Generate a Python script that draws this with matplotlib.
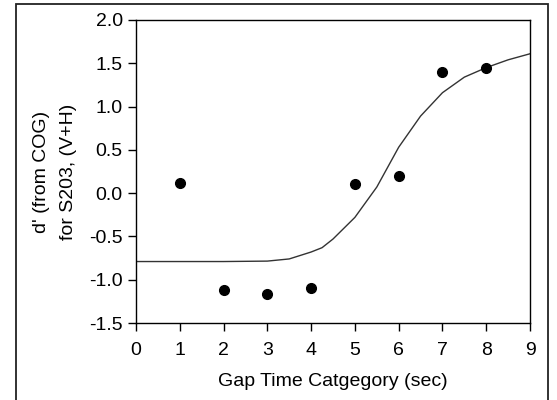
import matplotlib
matplotlib.use('Agg')
import matplotlib.pyplot as plt
from matplotlib.patches import Rectangle

# puntos medidos
gap_cat = [1, 2, 3, 4, 5, 6, 7, 8]
d_prime = [0.12, -1.12, -1.16, -1.10, 0.10, 0.20, 1.40, 1.45]

# curva ajustada
curva_x = [0, 1, 2, 3, 3.5, 4, 4.25, 4.5, 5, 5.5, 6, 6.5, 7, 7.5, 8, 8.5, 9]
curva_y = [-0.79, -0.79, -0.79, -0.785, -0.76, -0.68, -0.63, -0.53, -0.28,
           0.07, 0.53, 0.89, 1.16, 1.34, 1.45, 1.54, 1.61]

xticks = list(range(0, 10))
yticks = [-1.5, -1.0, -0.5, 0.0, 0.5, 1.0, 1.5, 2.0]

plt.rcParams['font.family'] = ['Liberation Sans', 'DejaVu Sans']
plt.rcParams['font.size'] = 14

fig = plt.figure(figsize=(5.57, 4), dpi=100)
ax = fig.add_axes([136/557, 1 - 323/400, 394/557, 303/400])

# marco exterior
fig.patches.append(Rectangle((16/557, -0.05), 532/557, 1.05 - 4/400,
                             transform=fig.transFigure, fill=False,
                             edgecolor='#222222', linewidth=1.3))

ax.plot(curva_x, curva_y, color='#333333', lw=1.0)
ax.plot(gap_cat, d_prime, 'o', color='black', markersize=7)

ax.set_xlim(0, 9)
ax.set_ylim(-1.5, 2.0)
ax.set_xticks(xticks)
ax.set_xticklabels([str(t) for t in xticks])
ax.set_yticks(yticks)
ax.set_yticklabels([f'{t:.1f}' for t in yticks])
ax.tick_params(direction='out', length=6, width=1, colors='black', pad=3.5)
ax.tick_params(axis='x', pad=8)
for s in ax.spines.values():
    s.set_linewidth(1)

ax.set_xlabel('Gap Time Catgegory (sec)', labelpad=10)
ax.set_ylabel("d' (from COG)\nfor S203, (V+H)", linespacing=1.75, labelpad=9)

fig.savefig('out.png', dpi=100)
